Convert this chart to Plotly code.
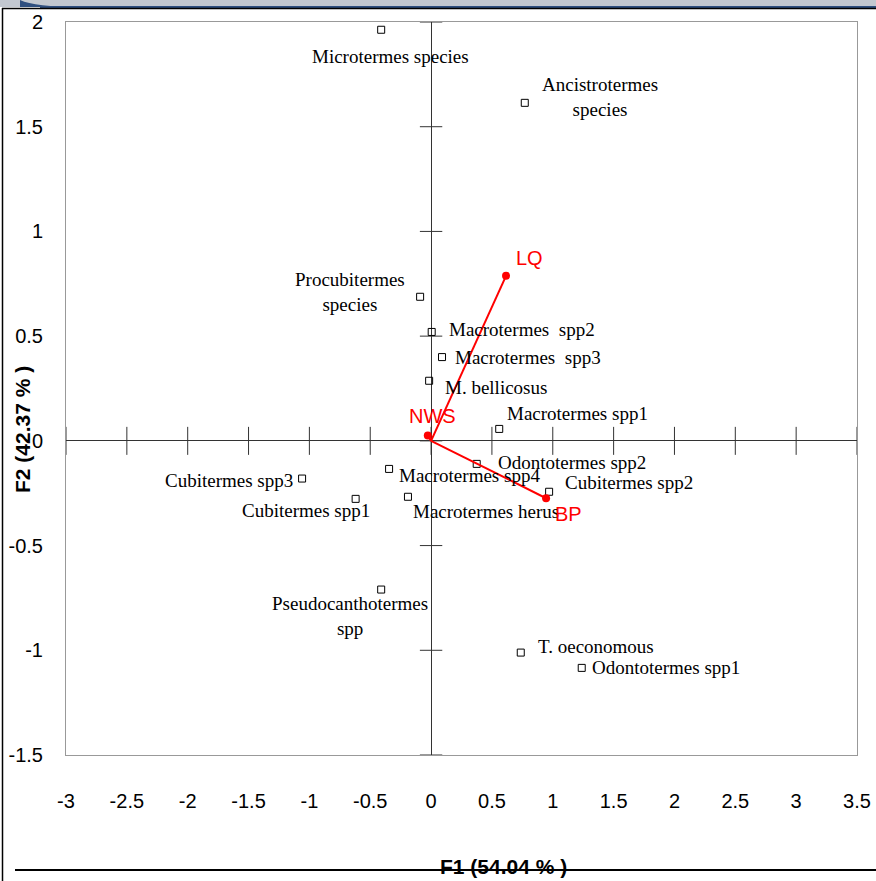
import plotly.graph_objects as go

# ---------------- data ----------------
species = [
    "Microtermes species", "Ancistrotermes<br>species", "Procubitermes<br>species",
    "Macrotermes\u00a0 spp2", "Macrotermes\u00a0 spp3", "M. bellicosus", "Macrotermes spp1",
    "Odontotermes spp2", "Macrotermes spp4", "Cubitermes spp3", "Cubitermes spp1",
    "Macrotermes herus", "Cubitermes spp2", "Pseudocanthotermes<br>spp",
    "T. oeconomous", "Odontotermes spp1",
]
f1 = [-0.41, 0.77, -0.09, 0.005, 0.09, -0.016, 0.56, 0.375, -0.345, -1.06, -0.62,
      -0.19, 0.97, -0.41, 0.737, 1.238]
f2 = [1.963, 1.614, 0.688, 0.52, 0.40, 0.287, 0.057, -0.11, -0.134, -0.18, -0.277,
      -0.267, -0.243, -0.71, -1.011, -1.084]

vec_names = ["LQ", "NWS", "BP"]
vec_f1 = [0.616, -0.027, 0.945]
vec_f2 = [0.788, 0.025, -0.274]

x_ticks = [-3, -2.5, -2, -1.5, -1, -0.5, 0, 0.5, 1, 1.5, 2, 2.5, 3, 3.5]
y_ticks = [-1.5, -1, -0.5, 0, 0.5, 1, 1.5, 2]
x_title = "F1 (54.04 % )"
y_title = "F2 (42.37 % )"

# ---------------- label placement (style) ----------------
# (xanchor, xshift, yshift)
label_pos = [
    ("center", 9, -27), ("center", 75, 6), ("center", -70, 5),
    ("left", 15, 2), ("left", 11, 0), ("left", 14, -7), ("left", 6, 15),
    ("left", 19, 1), ("left", 8, -7), ("right", -7, -2), ("center", -50, -12),
    ("left", 3, -15), ("left", 14, 9), ("center", -31, -26),
    ("left", 15, 6), ("left", 8, 0),
]
vec_pos = [("left", 8, 18), ("center", 5, 20), ("left", 7, -16)]

W, H = 876, 881
L, R, T, B = 66, 19, 22, 126


def pxx(x):
    return (x - L) / (W - L - R)


def pxy(y):
    return (H - B - y) / (H - T - B)


fig = go.Figure()

# tick crosses on the zero axes
fig.add_trace(go.Scatter(
    x=[v for v in x_ticks], y=[0] * len(x_ticks), mode="markers",
    marker=dict(symbol="line-ns", size=20, line=dict(color="#333", width=1)),
    hoverinfo="skip", showlegend=False, cliponaxis=False))
fig.add_trace(go.Scatter(
    x=[0] * len(y_ticks), y=[v for v in y_ticks], mode="markers",
    marker=dict(symbol="line-ew", size=16, line=dict(color="#333", width=1)),
    hoverinfo="skip", showlegend=False, cliponaxis=False))

# species points
fig.add_trace(go.Scatter(
    x=f1, y=f2, mode="markers",
    marker=dict(symbol="square-open", size=7, color="black", line=dict(width=1)),
    showlegend=False, hovertext=species))

# vectors
vx, vy = [], []
for a, b in zip(vec_f1, vec_f2):
    vx += [0, a, None]
    vy += [0, b, None]
fig.add_trace(go.Scatter(x=vx, y=vy, mode="lines",
                         line=dict(color="#ff0000", width=2), showlegend=False))
fig.add_trace(go.Scatter(x=vec_f1, y=vec_f2, mode="markers",
                         marker=dict(color="#ff0000", size=8), showlegend=False))

annotations = []
for name, x, y, (xa, xs, ys) in zip(species, f1, f2, label_pos):
    annotations.append(dict(
        x=x, y=y, xref="x", yref="y", text=name, showarrow=False,
        xanchor=xa, yanchor="middle", xshift=xs, yshift=ys, align="center",
        font=dict(family="Liberation Serif, Times New Roman, serif", size=19, color="black")))
for name, x, y, (xa, xs, ys) in zip(vec_names, vec_f1, vec_f2, vec_pos):
    annotations.append(dict(
        x=x, y=y, xref="x", yref="y", text=name, showarrow=False,
        xanchor=xa, yanchor="middle", xshift=xs, yshift=ys,
        font=dict(family="Liberation Sans, Arial, sans-serif", size=20, color="#ff0000")))

# axis titles
annotations.append(dict(
    x=pxx(503), y=pxy(866), xref="paper", yref="paper", text="<b>%s</b>" % x_title,
    showarrow=False, xanchor="center", yanchor="middle",
    font=dict(family="Liberation Sans, Arial, sans-serif", size=21, color="black")))
annotations.append(dict(
    x=pxx(22), y=pxy(430), xref="paper", yref="paper", text="<b>%s</b>" % y_title,
    showarrow=False, xanchor="center", yanchor="middle", textangle=-90,
    font=dict(family="Liberation Sans, Arial, sans-serif", size=21, color="black")))

shapes = [
    # header strip
    dict(type="rect", xref="paper", yref="paper", x0=pxx(0), x1=pxx(W), y0=pxy(0), y1=pxy(7),
         fillcolor="#c3c8d0", line=dict(width=0)),
    dict(type="path", xref="paper", yref="paper",
         path="M %f,%f Q %f,%f %f,%f L %f,%f Z" % (pxx(20), pxy(0), pxx(35), pxy(7), pxx(80), pxy(7),
                                                   pxx(20), pxy(7)),
         fillcolor="#2f4f7f", line=dict(width=0)),
    dict(type="line", xref="paper", yref="paper", x0=pxx(40), x1=pxx(W), y0=pxy(7), y1=pxy(7),
         line=dict(color="#2f4f7f", width=2)),
    # outer frame
    dict(type="line", xref="paper", yref="paper", x0=pxx(2), x1=pxx(W), y0=pxy(8.5), y1=pxy(8.5),
         line=dict(color="black", width=1.5)),
    dict(type="line", xref="paper", yref="paper", x0=pxx(2.5), x1=pxx(2.5), y0=pxy(8), y1=pxy(H),
         line=dict(color="black", width=1.5)),
    dict(type="line", xref="paper", yref="paper", x0=pxx(15), x1=pxx(W), y0=pxy(870), y1=pxy(870),
         line=dict(color="black", width=2)),
]

tickfont = dict(family="Liberation Sans, Arial, sans-serif", size=20, color="black")

fig.update_layout(
    width=W, height=H, autosize=False,
    margin=dict(l=L, r=R, t=T, b=B, autoexpand=False),
    paper_bgcolor="white", plot_bgcolor="white",
    annotations=annotations, shapes=shapes,
    xaxis=dict(range=[-3, 3.5], tickvals=x_ticks, ticktext=[f"{v:g}" for v in x_ticks],
               showgrid=False, zeroline=True, zerolinecolor="#333", zerolinewidth=1,
               showline=True, mirror=True, linecolor="#999", linewidth=1, automargin=False,
               ticks="", tickfont=tickfont, ticklabelstandoff=28),
    yaxis=dict(range=[-1.5, 2], tickvals=y_ticks, ticktext=[f"{v:g}" for v in y_ticks],
               showgrid=False, zeroline=True, zerolinecolor="#333", zerolinewidth=1,
               showline=True, mirror=True, linecolor="#999", linewidth=1, automargin=False,
               ticks="", tickfont=tickfont, ticklabelstandoff=18),
    showlegend=False,
)

fig.write_html("out.html", config={"displayModeBar": False},
               post_script="document.body.style.margin='0px';document.body.style.overflow='hidden';")
